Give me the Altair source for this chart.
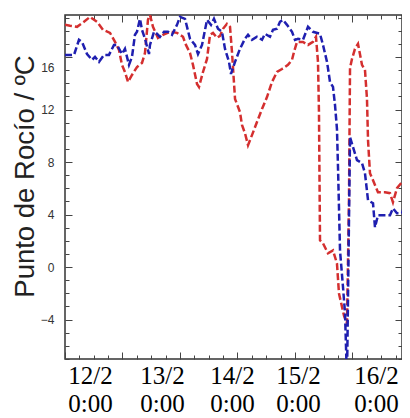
import altair as alt
import pandas as pd

# ---- data ----
red_x = [0.000, 0.087, 0.209, 0.330, 0.435, 0.557, 0.661, 0.783, 0.870, 0.939,
         0.991, 1.043, 1.096, 1.165, 1.252, 1.339, 1.391, 1.443, 1.478, 1.530,
         1.617, 1.704, 1.826, 1.948, 2.052, 2.104, 2.174, 2.226, 2.296, 2.330,
         2.400, 2.470, 2.522, 2.574, 2.643, 2.696, 2.748, 2.817, 2.870, 2.904,
         2.957, 3.043, 3.078, 3.130, 3.183, 3.252, 3.339, 3.426, 3.513, 3.600,
         3.687, 3.774, 3.878, 3.948, 3.983, 4.035, 4.139, 4.226, 4.313, 4.365,
         4.400, 4.417, 4.435, 4.487, 4.574, 4.661, 4.730, 4.765, 4.852, 4.904,
         4.939, 4.957, 4.991, 5.043, 5.096, 5.165, 5.217, 5.252, 5.270, 5.304,
         5.357, 5.443, 5.565, 5.652, 5.704, 5.774, 5.861, 5.948, 6.000]
red_y = [18.45, 18.38, 18.30, 18.68, 19.06, 18.68, 18.07, 17.84, 17.15, 16.54,
         15.40, 14.86, 14.10, 14.63, 15.24, 15.55, 16.31, 18.83, 19.21, 18.30,
         17.46, 17.69, 17.92, 17.84, 17.54, 16.92, 16.31, 15.40, 13.95, 13.72,
         14.86, 15.85, 17.69, 17.84, 17.46, 17.61, 18.15, 18.53, 18.30, 16.39,
         12.81, 11.81, 10.82, 10.20, 9.29, 10.05, 11.05, 12.04, 12.95, 14.10,
         14.86, 15.09, 15.40, 15.78, 16.39, 17.15, 17.15, 16.92, 17.15, 17.54,
         15.63, 11.81, 2.04, 1.81, 1.05, 1.27, 0.28, -2.01, -3.69, -4.30,
         5.09, 15.17, 15.85, 16.62, 17.00, 15.40, 15.02, 12.81, 9.67, 7.15,
         6.62, 5.70, 5.70, 5.63, 4.94, 6.01, 6.47, 7.00, 6.85]

blue_x = [0.000, 0.157, 0.243, 0.296, 0.383, 0.470, 0.522, 0.591, 0.678, 0.765,
          0.852, 0.904, 0.991, 1.043, 1.113, 1.165, 1.217, 1.252, 1.304, 1.339,
          1.391, 1.461, 1.478, 1.548, 1.600, 1.652, 1.722, 1.791, 1.861, 1.948,
          2.000, 2.087, 2.174, 2.261, 2.313, 2.383, 2.470, 2.539, 2.591, 2.661,
          2.730, 2.783, 2.852, 2.887, 2.957, 3.043, 3.130, 3.183, 3.252, 3.339,
          3.426, 3.478, 3.565, 3.617, 3.687, 3.739, 3.791, 3.861, 3.948, 4.000,
          4.052, 4.139, 4.226, 4.313, 4.435, 4.487, 4.557, 4.609, 4.661, 4.696,
          4.730, 4.748, 4.783, 4.835, 4.870, 4.904, 4.957, 5.009, 5.078, 5.165,
          5.217, 5.270, 5.357, 5.391, 5.443, 5.652, 5.704, 5.774, 5.861, 5.913,
          6.000]
blue_y = [16.16, 16.16, 17.31, 17.15, 16.23, 15.78, 16.01, 15.63, 16.16, 16.16,
          16.92, 16.92, 16.23, 16.62, 15.40, 16.01, 17.69, 17.92, 18.91, 18.07,
          17.39, 16.23, 16.92, 17.92, 17.77, 17.54, 17.92, 17.92, 17.69, 18.45,
          19.06, 18.91, 17.39, 16.92, 16.23, 16.92, 18.83, 18.45, 18.91, 18.15,
          17.92, 16.62, 15.63, 14.71, 15.63, 16.62, 17.39, 17.69, 17.31, 17.54,
          17.31, 17.77, 17.54, 18.07, 18.15, 18.68, 18.83, 18.45, 17.92, 17.31,
          17.39, 17.31, 18.30, 17.92, 17.77, 16.92, 15.63, 14.10, 13.72, 12.34,
          10.51, 7.61, 1.27, -1.53, -3.50, -8.60, 9.90, 9.14, 8.15, 7.92,
          7.15, 5.09, 4.86, 3.03, 3.95, 3.95, 4.48, 4.10, 4.10, 4.86,
          5.09]

# x-axis text labels (date / time) and where they sit
label_pos = [0.435, 1.687, 2.904, 4.052, 5.409]
label_date = ["12/2", "13/2", "14/2", "15/2", "16/2"]
label_time = ["0:00", "0:00", "0:00", "0:00", "0:00"]

y_label_vals = [16, 12, 8, 4, 0, -4]
x_major = [0, 1, 2, 3, 4, 5]
x_minor = [i * 0.25 for i in range(24) if i % 4 != 0]
y_major = [-4, 0, 4, 8, 12, 16]
y_minor = [v for v in range(-7, 20) if v % 4 != 0]

W, H = 337, 344
XD = [0, 5.861]
YD = [-7, 19.2]

red = pd.DataFrame({"t": red_x, "v": red_y})
blue = pd.DataFrame({"t": blue_x, "v": blue_y})

# label expression
expr = "''"
for p, d, tm in reversed(list(zip(label_pos, label_date, label_time))):
    expr = f"abs(datum.value - {p}) < 0.01 ? ['{d}', '{tm}'] : " + expr

xs = alt.Scale(domain=XD, nice=False, zero=False)
ys = alt.Scale(domain=YD, nice=False, zero=False)

TICK = "#444444"


def tick_axis(orient, offset, values, size):
    return alt.Axis(orient=orient, offset=offset, values=values, labels=False,
                    domain=False, grid=False, ticks=True, tickSize=size,
                    tickColor=TICK, tickWidth=1, title=None)


x_label_axis = alt.Axis(orient="bottom", values=label_pos, labelExpr=expr,
                        ticks=False, domain=False, grid=False, title=None,
                        labelFont="Liberation Serif", labelFontSize=25,
                        labelColor="black", labelPadding=4, labelLineHeight=28,
                        labelOverlap=False, labelFlush=False)

y_label_axis = alt.Axis(orient="left", values=y_label_vals, ticks=False,
                        domain=False, grid=False,
                        labelFont="Liberation Sans", labelFontSize=12,
                        labelColor="#333333", labelPadding=11,
                        labelOffset={"condition": {"test": "datum.value === 16", "value": 10}, "value": 0},
                        title="Punto de Rocío / ºC", titleFont="Liberation Sans",
                        titleFontSize=27.5, titleFontWeight="normal",
                        titleColor="#222222", titleAngle=270, titleX=-40, titleY=161,
                        titleAlign="center", titleBaseline="middle")

line_props = dict(strokeDash=[7, 3], strokeWidth=2.5, clip=True)

l_red = alt.Chart(red).mark_line(color="#d42f2f", **line_props).encode(
    x=alt.X("t:Q", scale=xs, axis=x_label_axis),
    y=alt.Y("v:Q", scale=ys, axis=y_label_axis),
)

l_blue = alt.Chart(blue).mark_line(color="#1f1fb0", **line_props).encode(
    x=alt.X("t:Q", scale=xs, axis=tick_axis("bottom", -H, x_major, 7)),
    y=alt.Y("v:Q", scale=ys, axis=tick_axis("right", -W, y_major, 7)),
)

l3 = alt.Chart(red).mark_point(opacity=0, size=1).encode(
    x=alt.X("t:Q", scale=xs, axis=tick_axis("bottom", -H, x_minor, 4)),
    y=alt.Y("v:Q", scale=ys, axis=tick_axis("right", -W, y_minor, 4)),
)
l4 = alt.Chart(red).mark_point(opacity=0, size=1).encode(
    x=alt.X("t:Q", scale=xs, axis=tick_axis("top", -H, x_major, 7)),
    y=alt.Y("v:Q", scale=ys, axis=tick_axis("left", -W, y_major, 7)),
)
l5 = alt.Chart(red).mark_point(opacity=0, size=1).encode(
    x=alt.X("t:Q", scale=xs, axis=tick_axis("top", -H, x_minor, 4)),
    y=alt.Y("v:Q", scale=ys, axis=tick_axis("left", -W, y_minor, 4)),
)

chart = alt.layer(l_red, l_blue, l3, l4, l5).resolve_axis(
    x="independent", y="independent"
).properties(
    width=W, height=H,
    autosize=alt.AutoSizeParams(type="none"),
    padding={"left": 57, "top": 7, "right": 0, "bottom": 58},
    background="white",
).configure_view(stroke="#333333", strokeWidth=1.5)

chart.save("out.html", embed_options={"renderer": "svg", "actions": False})
